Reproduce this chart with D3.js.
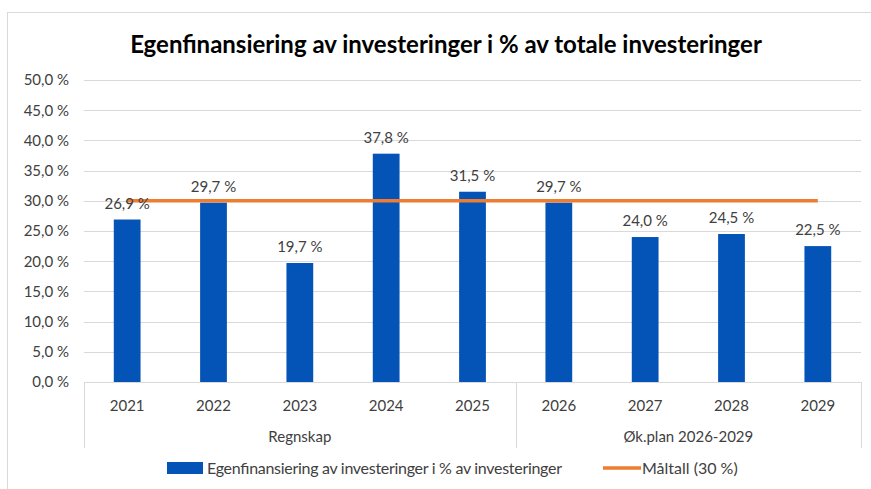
<!DOCTYPE html>
<html>
<head>
<meta charset="utf-8">
<script src="https://cdn.jsdelivr.net/npm/d3@7"></script>
<style>
  body { margin: 0; background: #fff; }
  text { font-family: Lato, "Open Sans", sans-serif; fill: #404040; }
</style>
</head>
<body>
<div id="chart"></div>
<script>
// data
var years = ['2021', '2022', '2023', '2024', '2025', '2026', '2027', '2028', '2029'];
var values = [26.9, 29.7, 19.7, 37.8, 31.5, 29.7, 24.0, 24.5, 22.5];
var target = [30, 30, 30, 30, 30, 30, 30, 30, 30];
var groups = [
  { name: 'Regnskap', from: '2021', to: '2025' },
  { name: 'Øk.plan 2026-2029', from: '2026', to: '2029' }
];
var yTicks = [0, 5, 10, 15, 20, 25, 30, 35, 40, 45, 50];

var svgWidth = 871;
var svgHeight = 489;
var margin = { top: 80, right: 10, bottom: 107, left: 84 };
var width = 861 - margin.left;
var height = 382 - margin.top;

var svg = d3.select('#chart').append('svg')
  .attr('width', svgWidth)
  .attr('height', svgHeight);

// outer chart border
svg.append('rect')
  .attr('x', 7.5).attr('y', 12.5)
  .attr('width', 900).attr('height', 600)
  .attr('fill', 'none')
  .attr('stroke', '#d9d9d9');

svg.append('text')
  .attr('x', 446)
  .attr('y', 53)
  .attr('text-anchor', 'middle')
  .style('font-size', '24px')
  .style('font-weight', 'bold')
  .style('fill', '#000')
  .text('Egenfinansiering av investeringer i % av totale investeringer');

var chartGroup = svg.append('g')
  .attr('transform', `translate(${margin.left}, ${margin.top})`);

var xScale = d3.scaleBand()
  .domain(years)
  .range([0, width])
  .paddingInner(0.69)
  .paddingOuter(0.345);

var yScale = d3.scaleLinear()
  .domain([0, 50])
  .range([height, 0]);

var fmt = function(v) { return d3.format('.1f')(v).replace('.', ',') + ' %'; };

// gridlines
chartGroup.selectAll('.grid')
  .data(yTicks)
  .enter()
  .append('line')
  .attr('x1', 0)
  .attr('x2', width)
  .attr('y1', d => Math.round(yScale(d)) + 0.5)
  .attr('y2', d => Math.round(yScale(d)) + 0.5)
  .attr('stroke', '#d9d9d9')
  .attr('stroke-width', 1);

// y axis labels
var leftAxis = d3.axisLeft(yScale).tickValues(yTicks).tickSize(0).tickPadding(15)
  .tickFormat(fmt);
var yAxis = chartGroup.append('g').call(leftAxis);
yAxis.select('.domain').remove();
yAxis.selectAll('text')
  .style('font-size', '15px')
  .style('font-family', 'Lato, sans-serif')
  .attr('fill', '#404040');

// bars
chartGroup.selectAll('.bar')
  .data(values)
  .enter()
  .append('rect')
  .attr('x', (d, i) => xScale(years[i]))
  .attr('y', d => yScale(d))
  .attr('width', xScale.bandwidth())
  .attr('height', d => height - yScale(d))
  .attr('fill', '#0453b6');

// target line
var line = d3.line()
  .x((d, i) => xScale(years[i]) + xScale.bandwidth() / 2)
  .y(d => yScale(d));
chartGroup.append('path')
  .datum(target)
  .attr('d', line)
  .attr('fill', 'none')
  .attr('stroke', '#ed7d31')
  .attr('stroke-width', 3.5);

// data labels
chartGroup.selectAll('.lbl')
  .data(values)
  .enter()
  .append('text')
  .attr('x', (d, i) => xScale(years[i]) + xScale.bandwidth() / 2)
  .attr('y', d => yScale(d) - 11)
  .attr('text-anchor', 'middle')
  .style('font-size', '15px')
  .text(d => fmt(d));

// category axis
var step = xScale.step();
chartGroup.append('line')
  .attr('x1', 0).attr('x2', width)
  .attr('y1', height + 0.5).attr('y2', height + 0.5)
  .attr('stroke', '#d9d9d9');

var bottomAxis = d3.axisBottom(xScale).tickSize(0).tickPadding(18);
var xAxis = chartGroup.append('g')
  .attr('transform', `translate(0, ${height})`)
  .call(bottomAxis);
xAxis.select('.domain').remove();
xAxis.selectAll('text')
  .style('font-size', '15px')
  .style('font-family', 'Lato, sans-serif')
  .attr('fill', '#404040');

// group separators and labels
var bounds = [0, years.indexOf('2026') * step, width];
chartGroup.selectAll('.sep')
  .data(bounds)
  .enter()
  .append('line')
  .attr('x1', d => Math.round(d) + 0.5)
  .attr('x2', d => Math.round(d) + 0.5)
  .attr('y1', height)
  .attr('y2', height + 66)
  .attr('stroke', '#d9d9d9');

var outer = xScale.step() * xScale.paddingOuter();
chartGroup.selectAll('.grp')
  .data(groups)
  .enter()
  .append('text')
  .attr('x', d => (xScale(d.from) - outer + xScale(d.to) + xScale.bandwidth() + outer) / 2)
  .attr('y', height + 60)
  .attr('text-anchor', 'middle')
  .style('font-size', '15px')
  .text(d => d.name);

// legend
var legend = svg.append('g');
legend.append('rect')
  .attr('x', 167).attr('y', 462)
  .attr('width', 36).attr('height', 12)
  .attr('fill', '#0453b6');
legend.append('text')
  .attr('x', 207).attr('y', 474)
  .attr('textLength', 355)
  .style('font-size', '16px')
  .text('Egenfinansiering av investeringer i % av investeringer');
legend.append('line')
  .attr('x1', 603).attr('x2', 641)
  .attr('y1', 468).attr('y2', 468)
  .attr('stroke', '#ed7d31')
  .attr('stroke-width', 3.5);
legend.append('text')
  .attr('x', 642).attr('y', 474)
  .style('font-size', '16px')
  .text('Måltall (30 %)');
</script>
</body>
</html>
